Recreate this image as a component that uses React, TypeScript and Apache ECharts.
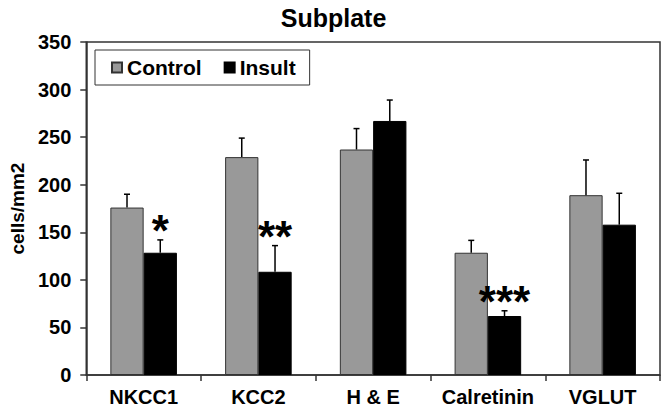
import React, { useEffect, useRef } from "react";
import * as echarts from "echarts";

const categories = ["NKCC1", "KCC2", "H & E", "Calretinin", "VGLUT"];
const controlValues = [176, 229, 237, 128.5, 189];
const controlErrors = [14, 20, 22, 13, 37];
const insultValues = [128.5, 108.5, 267, 62, 158];
const insultErrors = [13.5, 27.5, 22, 5.5, 33];
const insultStars = ["*", "**", "", "***", ""];
const yTicks = { min: 0, max: 350, interval: 50 };

const FONT = "Arial, 'Liberation Sans', Helvetica, sans-serif";
const GAP = 0.42;

function makeErrorSeries(name: string, values: number[], errors: number[], side: number, stars: string[] | null) {
  return {
    type: "custom",
    name: name + "-err",
    silent: true,
    z: 5,
    data: values.map((v, i) => [i, v, errors[i]]),
    renderItem: (params: any, api: any) => {
      const i = api.value(0);
      const v = api.value(1);
      const e = api.value(2);
      const base = api.coord([i, v]);
      const top = api.coord([i, v + e]);
      const band = api.size([1, 0])[0];
      const barW = (band * (1 - GAP)) / 2;
      const x = base[0] + (side * barW) / 2;
      const children: any[] = [
        {
          type: "line",
          shape: { x1: x, y1: base[1], x2: x, y2: top[1] },
          style: { stroke: "#000", lineWidth: 1.5 },
        },
        {
          type: "line",
          shape: { x1: x - 3, y1: top[1], x2: x + 3, y2: top[1] },
          style: { stroke: "#000", lineWidth: 1.5 },
        },
      ];
      if (stars && stars[i]) {
        children.push({
          type: "text",
          x: x,
          y: top[1] - 9.5,
          style: {
            text: stars[i],
            font: `bold 44px ${FONT}`,
            fill: "#000",
            textAlign: "center",
            textVerticalAlign: "middle",
          },
        });
      }
      return { type: "group", children };
    },
  };
}

export default function App() {
  const ref = useRef<HTMLDivElement>(null);
  useEffect(() => {
    if (!ref.current) return;
    const chart = echarts.init(ref.current, null, { renderer: "svg" });
    chart.setOption({
      animation: false,
      backgroundColor: "#fff",
      title: {
        text: "Subplate",
        left: "center",
        top: 0,
        textStyle: { fontFamily: FONT, fontWeight: "bold", fontSize: 25, color: "#000" },
      },
      legend: {
        data: ["Control", "Insult"],
        left: 95,
        top: 50,
        orient: "horizontal",
        icon: "rect",
        itemWidth: 10,
        itemHeight: 10,
        itemGap: 22,
        padding: [7, 14, 7, 16],
        borderColor: "#333",
        borderWidth: 1,
        backgroundColor: "#fff",
        textStyle: { fontFamily: FONT, fontWeight: "bold", fontSize: 21, color: "#000" },
      },
      grid: {
        left: 84,
        right: 7,
        top: 42,
        bottom: 41,
        show: true,
        borderColor: "#333",
        borderWidth: 1.5,
        backgroundColor: "transparent",
      },
      xAxis: {
        type: "category",
        data: categories,
        axisLine: { lineStyle: { color: "#333", width: 1.5 } },
        axisTick: { show: true, length: 6, lineStyle: { color: "#333", width: 1.5 } },
        axisLabel: {
          interval: 0,
          fontFamily: FONT,
          fontWeight: "bold",
          fontSize: 20,
          color: "#000",
          margin: 12,
        },
        splitLine: { show: false },
      },
      yAxis: {
        type: "value",
        min: yTicks.min,
        max: yTicks.max,
        interval: yTicks.interval,
        name: "cells/mm2",
        nameLocation: "middle",
        nameGap: 59,
        nameTextStyle: { fontFamily: FONT, fontWeight: "bold", fontSize: 19, color: "#000" },
        axisLine: { show: true, lineStyle: { color: "#333", width: 1.5 } },
        axisTick: { show: true, length: 6, lineStyle: { color: "#333", width: 1.5 } },
        axisLabel: { fontFamily: FONT, fontWeight: "bold", fontSize: 20, color: "#000", margin: 15 },
        splitLine: { show: false },
      },
      series: [
        {
          type: "bar",
          name: "Control",
          data: controlValues,
          barGap: "0%",
          barCategoryGap: GAP * 100 + "%",
          itemStyle: { color: "#999999", borderColor: "#333", borderWidth: 1 },
        },
        {
          type: "bar",
          name: "Insult",
          data: insultValues,
          barGap: "0%",
          barCategoryGap: GAP * 100 + "%",
          itemStyle: { color: "#000000", borderColor: "#000", borderWidth: 1 },
        },
        makeErrorSeries("Control", controlValues, controlErrors, -1, null),
        makeErrorSeries("Insult", insultValues, insultErrors, 1, insultStars),
      ],
    });
    return () => chart.dispose();
  }, []);
  return (
    <div
      ref={ref}
      style={{ position: "fixed", left: 0, top: 0, width: 667, height: 416 }}
    />
  );
}
